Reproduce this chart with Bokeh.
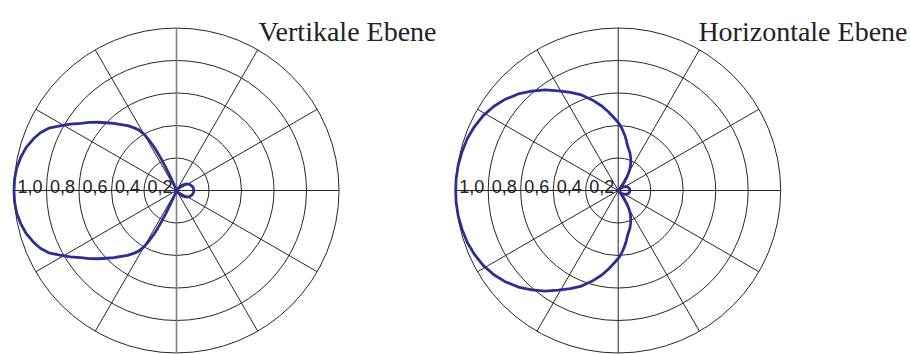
import numpy as np
from bokeh.plotting import figure
from bokeh.models import Range1d, ColumnDataSource
from bokeh.core.properties import value
from bokeh.embed import file_html
from bokeh.resources import INLINE

# Polar grid: rings and their labels, spokes every 30 degrees
ring_values = [0.2, 0.4, 0.6, 0.8, 1.0]
ring_labels = ["0,2", "0,4", "0,6", "0,8", "1,0"]
spoke_angles = [0, 30, 60, 120, 150, 180, 210, 240, 300, 330]

titles = ["Vertikale Ebene", "Horizontale Ebene"]

# Directional pattern, upper half (0..180 deg); the lower half is symmetric
vert_angle = [0, 8, 16, 24, 30, 36, 42, 48, 53, 57,
              110, 111, 112.5, 114, 115, 116, 117, 118.5, 120, 122, 124, 127,
              130, 133, 136, 139, 142, 145, 148, 151, 154, 157, 160, 164, 168,
              172, 176, 180]
vert_gain = [0.107, 0.105, 0.099, 0.09, 0.08, 0.066, 0.05, 0.032, 0.015, 0.0,
             0.0, 0.01, 0.04, 0.09, 0.16, 0.23, 0.29, 0.35, 0.40, 0.44, 0.465,
             0.50, 0.53, 0.565, 0.60, 0.64, 0.68, 0.72, 0.77, 0.82, 0.875,
             0.91, 0.935, 0.962, 0.98, 0.993, 0.999, 1.0]

horiz_angle = [0, 8, 16, 24, 30, 36, 41, 45, 48, 51, 54, 57, 60, 63, 66, 69,
               73, 77, 79, 81, 83, 86, 89, 93, 97, 101, 106, 111, 116, 121,
               126, 131, 136, 141, 146, 151, 156, 161, 166, 171, 176, 180]
horiz_gain = [0.072, 0.071, 0.066, 0.057, 0.048, 0.034, 0.018, 0.0, 0.0, 0.03,
              0.065, 0.10, 0.135, 0.165, 0.19, 0.215, 0.245, 0.272, 0.29,
              0.315, 0.34, 0.375, 0.41, 0.445, 0.487, 0.53, 0.58, 0.63, 0.672,
              0.715, 0.765, 0.81, 0.855, 0.893, 0.925, 0.95, 0.968, 0.982,
              0.99, 0.997, 1.0, 1.0]

PX = 162.5                      # pixels per unit radius
centers = [0.0, (617.7 - 176.0) / PX]
W, H = 910, 354

p = figure(width=W, height=H, output_backend="svg", toolbar_location=None,
           x_range=Range1d(-176.0 / PX, (W - 176.0) / PX),
           y_range=Range1d(-(H - 190.0) / PX, 190.0 / PX),
           x_axis_type=None, y_axis_type=None, min_border=0,
           background_fill_color="white", border_fill_color="white")
p.outline_line_color = None
p.grid.visible = False

line_col = "#262626"
curve_col = "#2b3090"


def closed_pattern(ang, gain):
    a = list(ang) + [360 - v for v in reversed(ang)]
    g = list(gain) + list(reversed(gain))
    t = np.radians(a)
    g = np.array(g)
    return g * np.cos(t), g * np.sin(t)


for i, cx in enumerate(centers):
    # rings
    p.circle(x=[cx] * len(ring_values), y=[0] * len(ring_values),
             radius=ring_values, fill_color=None, line_color=line_col,
             line_width=1)
    # spokes
    t = np.radians(spoke_angles)
    p.segment(x0=[cx] * len(t), y0=[0] * len(t),
              x1=cx + np.cos(t), y1=np.sin(t),
              line_color=line_col, line_width=1)
    # vertical axis
    p.segment(x0=[cx], y0=[-1], x1=[cx], y1=[1],
              line_color="#808080" if i == 0 else line_col,
              line_width=1.6 if i == 0 else 1)

    # ring labels along the left horizontal spoke
    lab = ColumnDataSource(dict(
        x=[cx - r + 0.022 for r in ring_values],
        y=[0.023] * len(ring_values),
        t=ring_labels))
    p.text(x="x", y="y", text="t", source=lab,
           text_font=value("Liberation Sans"), text_font_size="18px",
           text_color="#222222", text_align="left",
           text_baseline="alphabetic")

# patterns
for cx, (ang, gain) in zip(centers, [(vert_angle, vert_gain),
                                     (horiz_angle, horiz_gain)]):
    xs, ys = closed_pattern(ang, gain)
    p.line(x=xs + cx, y=ys, line_color=curve_col, line_width=2.8,
           line_join="round")

# titles
tsrc = ColumnDataSource(dict(
    x=[(258.0 - 176.0) / PX, (907.0 - 176.0) / PX],
    y=[(190.0 - 30.7) / PX] * 2,
    t=titles,
    align=["left", "right"]))
p.text(x="x", y="y", text="t", source=tsrc, text_align="align",
       text_font=value("Liberation Serif"), text_font_size="28px",
       text_color="#222222", text_baseline="alphabetic")

open("out.html", "w").write(file_html(p, INLINE))
